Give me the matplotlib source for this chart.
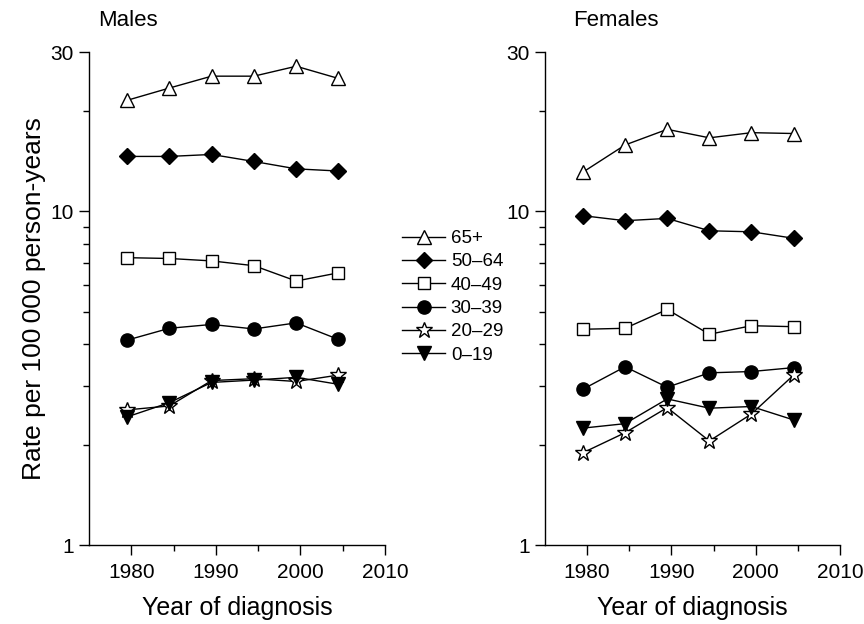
import numpy as np
import matplotlib
matplotlib.use('Agg')
import matplotlib.pyplot as plt
from matplotlib.ticker import FixedLocator, NullFormatter

plt.rcParams['font.family'] = ['Liberation Sans', 'DejaVu Sans']

years = [1979.5, 1984.5, 1989.5, 1994.5, 1999.5, 2004.5]
groups = ['65+', '50\u201364', '40\u201349', '30\u201339', '20\u201329', '0\u201319']

males_65 = [21.5, 23.4, 25.4, 25.4, 27.2, 25.0]
males_50_64 = [14.6, 14.6, 14.8, 14.1, 13.4, 13.2]
males_40_49 = [7.26, 7.22, 7.10, 6.87, 6.18, 6.54]
males_30_39 = [4.11, 4.46, 4.58, 4.44, 4.63, 4.13]
males_20_29 = [2.54, 2.61, 3.11, 3.15, 3.09, 3.23]
males_0_19 = [2.42, 2.67, 3.07, 3.12, 3.18, 3.03]

females_65 = [13.1, 15.8, 17.6, 16.6, 17.2, 17.1]
females_50_64 = [9.70, 9.37, 9.52, 8.74, 8.68, 8.30]
females_40_49 = [4.43, 4.46, 5.08, 4.28, 4.54, 4.51]
females_30_39 = [2.93, 3.42, 2.97, 3.28, 3.31, 3.40]
females_20_29 = [1.89, 2.17, 2.58, 2.05, 2.47, 3.23]
females_0_19 = [2.24, 2.31, 2.74, 2.57, 2.60, 2.37]

males = [males_65, males_50_64, males_40_49, males_30_39, males_20_29, males_0_19]
females = [females_65, females_50_64, females_40_49, females_30_39, females_20_29, females_0_19]

# marker, facecolor, size
styles = [('^', 'white', 10.5),
          ('D', 'black', 8.5),
          ('s', 'white', 8),
          ('o', 'black', 9.5),
          ('*', 'white', 12),
          ('v', 'black', 10)]

fig = plt.figure(figsize=(8.64, 6.24), dpi=100)
ax1 = fig.add_axes([0.103, 0.1266, 0.3426, 0.790])
ax2 = fig.add_axes([0.6308, 0.1266, 0.3414, 0.790])


def draw(ax, data):
    handles = []
    for vals, (m, fc, ms) in zip(data, styles):
        h, = ax.plot(years, vals, color='black', lw=1.0, marker=m, ms=ms,
                     mfc=fc, mec='black', mew=1.0, clip_on=False)
        handles.append(h)
    ax.set_yscale('log')
    ax.set_ylim(1, 30)
    ax.set_xlim(1975, 2010)
    ax.yaxis.set_major_locator(FixedLocator([1, 10, 30]))
    ax.yaxis.set_minor_locator(FixedLocator([2, 3, 4, 5, 6, 7, 8, 9, 20]))
    ax.yaxis.set_minor_formatter(NullFormatter())
    ax.set_yticklabels(['1', '10', '30'])
    ax.xaxis.set_major_locator(FixedLocator([1980, 1990, 2000, 2010]))
    ax.xaxis.set_minor_locator(FixedLocator([1985, 1995, 2005]))
    ax.spines['top'].set_visible(False)
    ax.spines['right'].set_visible(False)
    for s in ('left', 'bottom'):
        ax.spines[s].set_linewidth(1.0)
    ax.tick_params(which='major', length=7, width=1.0, labelsize=15, pad=4)
    ax.tick_params(which='minor', length=4, width=1.0)
    ax.tick_params(axis='x', which='major', pad=6)
    ax.set_xlabel('Year of diagnosis', fontsize=18, labelpad=10)
    return handles


handles = draw(ax1, males)
draw(ax2, females)
ax1.set_ylabel('Rate per 100\u2009000 person-years', fontsize=19, labelpad=3)

fig.text(98 / 864, 1 - 20 / 624, 'Males', fontsize=16, va='center', ha='left')
fig.text(573 / 864, 1 - 20 / 624, 'Females', fontsize=16, va='center', ha='left')

fig.legend(handles, groups, loc='upper left', bbox_to_anchor=(402 / 864, 1 - 230 / 624),
           frameon=False, fontsize=13.5, handlelength=2.3, labelspacing=0.33,
           handletextpad=0.3, borderpad=0, borderaxespad=0)

fig.savefig('out.png', dpi=100)
